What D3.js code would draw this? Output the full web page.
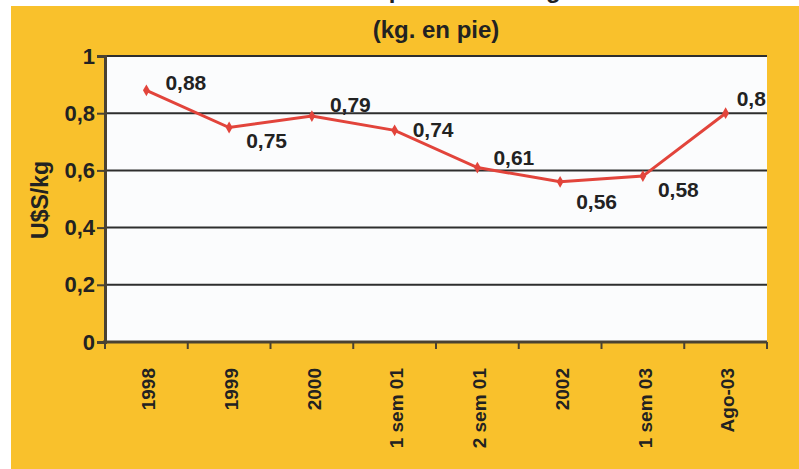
<!DOCTYPE html>
<html>
<head>
<meta charset="utf-8">
<script src="https://cdn.jsdelivr.net/npm/d3@7"></script>
<style>
  html, body { margin: 0; padding: 0; background: #ffffff; }
  svg { display: block; }
</style>
</head>
<body>
<script>
// categories and values
const periods = ["1998", "1999", "2000", "1 sem 01", "2 sem 01", "2002", "1 sem 03", "Ago-03"];
const prices = [0.88, 0.75, 0.79, 0.74, 0.61, 0.56, 0.58, 0.8];
const yTicks = [0, 0.2, 0.4, 0.6, 0.8, 1];
const yTickLabels = ["0", "0,2", "0,4", "0,6", "0,8", "1"];
const subtitle = "(kg. en pie)";
const yTitle = "U$S/kg";

const width = 799, height = 469;
const font = "'Liberation Sans', Arial, sans-serif";

const svg = d3.select("body").append("svg")
  .attr("width", width)
  .attr("height", height);

// orange panel
svg.append("rect")
  .attr("x", 11).attr("y", 6)
  .attr("width", width - 11).attr("height", height - 6)
  .attr("fill", "#f9c12c");

// title of the line above, cut off by the crop: only descenders show
svg.append("text")
  .attr("x", 470).attr("y", -2)
  .attr("text-anchor", "middle")
  .style("font-family", font)
  .style("font-weight", "bold")
  .style("font-size", "24px")
  .attr("fill", "#222")
  .text("Precio promedio del ganado");

const margin = { left: 105, right: 767, top: 56, bottom: 342 };

const x = d3.scaleBand()
  .domain(periods)
  .range([margin.left, margin.right]);

const y = d3.scaleLinear()
  .domain([0, 1])
  .range([margin.bottom, margin.top]);

// white plot area
svg.append("rect")
  .attr("x", margin.left).attr("y", margin.top)
  .attr("width", margin.right - margin.left)
  .attr("height", margin.bottom - margin.top)
  .attr("fill", "#fbfcfd");

// gridlines
svg.append("g")
  .selectAll("line")
  .data(yTicks.filter(d => d > 0))
  .join("line")
  .attr("x1", margin.left).attr("x2", margin.right)
  .attr("y1", d => y(d)).attr("y2", d => y(d))
  .attr("stroke", "#2e2e2e")
  .attr("stroke-width", 2);

// y axis
const yAxis = svg.append("g")
  .attr("transform", `translate(${margin.left},0)`)
  .call(d3.axisLeft(y).tickValues(yTicks).tickSize(8).tickPadding(2)
    .tickFormat((d, i) => yTickLabels[i]));
yAxis.select(".domain").attr("stroke", "#4a4232").attr("stroke-width", 3);
yAxis.selectAll(".tick line").attr("stroke", "#4a4232").attr("stroke-width", 2);
yAxis.selectAll(".tick text")
  .style("font-family", font)
  .style("font-weight", "bold")
  .style("font-size", "22px")
  .attr("fill", "#222");

// x axis with ticks at band edges
const xAxis = svg.append("g")
  .attr("transform", `translate(0,${margin.bottom})`);
xAxis.append("line")
  .attr("x1", margin.left - 2).attr("x2", margin.right)
  .attr("stroke", "#4a4232").attr("stroke-width", 3);
xAxis.selectAll(".edge")
  .data(periods.concat([null]))
  .join("line")
  .attr("class", "edge")
  .attr("x1", (d, i) => i < periods.length ? x(d) : margin.right)
  .attr("x2", (d, i) => i < periods.length ? x(d) : margin.right)
  .attr("y1", 0).attr("y2", 7)
  .attr("stroke", "#4a4232").attr("stroke-width", 2);
xAxis.selectAll(".lbl")
  .data(periods)
  .join("text")
  .attr("class", "lbl")
  .attr("transform", d => `translate(${x(d) + x.bandwidth() / 2 + 2},26) rotate(-90)`)
  .attr("text-anchor", "end")
  .attr("dy", "0.35em")
  .style("font-family", font)
  .style("font-weight", "bold")
  .style("font-size", "19px")
  .attr("fill", "#222")
  .text(d => d);

// subtitle
svg.append("text")
  .attr("x", 436).attr("y", 38)
  .attr("text-anchor", "middle")
  .style("font-family", font)
  .style("font-weight", "bold")
  .style("font-size", "24px")
  .attr("fill", "#222")
  .text(subtitle);

// y title
svg.append("text")
  .attr("transform", `translate(40,200) rotate(-90)`)
  .attr("text-anchor", "middle")
  .attr("dy", "0.35em")
  .style("font-family", font)
  .style("font-weight", "bold")
  .style("font-size", "23px")
  .attr("fill", "#222")
  .text(yTitle);

// line
const cx = d => x(d) + x.bandwidth() / 2;
const line = d3.line()
  .x((d, i) => cx(periods[i]))
  .y(d => y(d));

svg.append("path")
  .datum(prices)
  .attr("d", line)
  .attr("fill", "none")
  .attr("stroke", "#e2443b")
  .attr("stroke-width", 3);

svg.append("g")
  .selectAll("path")
  .data(prices)
  .join("path")
  .attr("d", d3.symbol(d3.symbolDiamond, 40))
  .attr("transform", (d, i) => `translate(${cx(periods[i])},${y(d)})`)
  .attr("fill", "#e2443b");

// value labels, offsets from each point
const labelDx = [19, 17, 18, 18, 16, 16, 15, 11];
const labelDy = [0, 20, -4, 7, -3, 27, 21, -7];
svg.append("g")
  .selectAll("text")
  .data(prices)
  .join("text")
  .attr("x", (d, i) => cx(periods[i]) + labelDx[i])
  .attr("y", (d, i) => y(d) + labelDy[i])
  .style("font-family", font)
  .style("font-weight", "bold")
  .style("font-size", "21px")
  .attr("fill", "#222")
  .text(d => String(d).replace(".", ","));
</script>
</body>
</html>
